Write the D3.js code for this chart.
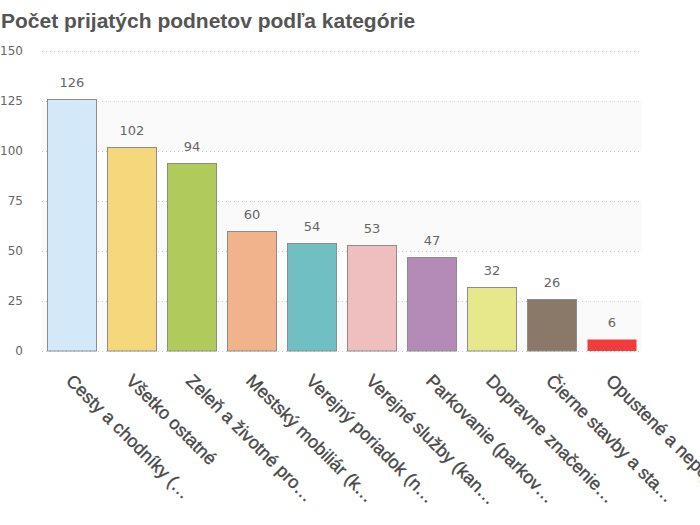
<!DOCTYPE html>
<html><head><meta charset="utf-8">
<script src="https://cdn.jsdelivr.net/npm/d3@7"></script>
<style>body{margin:0;background:#fff;overflow:hidden}svg{display:block}</style>
</head><body>
<script>
const categories = ["Cesty a chodníky (…","Všetko ostatné","Zeleň a životné pro…","Mestský mobiliár (k…","Verejný poriadok (n…","Verejné služby (kan…","Parkovanie (parkov…","Dopravne značenie…","Čierne stavby a sta…","Opustené a nepoja…"];
const values = [126,102,94,60,54,53,47,32,26,6];
const colors = ["#d3e8f8","#f6d87c","#b0cb5c","#f0b38b","#70bfc2","#efbebe","#b48bb6","#e7e78b","#8a7868","#f23b3b"];
const strokes = ["#8c8c8c","#8c8c8c","#8c8c8c","#8c8c8c","#8c8c8c","#8c8c8c","#8c8c8c","#8c8c8c","#8c8c8c","none"];
const yTicks = [0,25,50,75,100,125,150];
const title = "Počet prijatých podnetov podľa kategórie";

const W=700,H=525;
const svg=d3.select("body").append("svg").attr("width",W).attr("height",H);
const x=d3.scaleBand().domain(categories).range([42,642]).paddingInner(1/6).paddingOuter(1/12);
const y=d3.scaleLinear().domain([0,150]).range([351,51]);

// bands
for(let i=0;i<yTicks.length-1;i+=2){
  svg.append("rect").attr("x",42).attr("width",600)
    .attr("y",y(yTicks[i+1])).attr("height",y(yTicks[i])-y(yTicks[i+1])).attr("fill","#fafafa");
}
// grid
svg.append("g").selectAll("line").data(yTicks).join("line")
  .attr("x1",42).attr("x2",642).attr("y1",d=>y(d)+0.5).attr("y2",d=>y(d)+0.5)
  .attr("stroke","#c8c8c8").attr("stroke-dasharray","1,3");
// y axis labels
const yAxis=d3.axisLeft(y).tickValues(yTicks).tickSize(0).tickPadding(0);
const gy=svg.append("g").attr("transform","translate(23,0)").call(yAxis);
gy.select(".domain").remove();
gy.selectAll("text").attr("font-family","DejaVu Sans").attr("font-size",12).attr("fill","#666");

// bars
svg.append("g").selectAll("rect").data(values).join("rect")
  .attr("x",(d,i)=>x(categories[i])+0.5).attr("width",x.bandwidth()-1)
  .attr("y",d=>y(d)+0.5).attr("height",d=>y(0)-y(d)-0.5)
  .attr("fill",(d,i)=>colors[i]).attr("stroke",(d,i)=>strokes[i]).attr("stroke-width",1);
// value labels
svg.append("g").selectAll("text").data(values).join("text")
  .attr("x",(d,i)=>x(categories[i])+x.bandwidth()/2).attr("y",d=>y(d)-12)
  .attr("text-anchor","middle").attr("font-family","DejaVu Sans").attr("font-size",13).attr("fill","#666")
  .text(d=>d);
// category labels
svg.append("g").selectAll("text").data(categories).join("text")
  .attr("transform",d=>`translate(${x(d)+x.bandwidth()/2+2},${373}) rotate(45)`)
  .attr("dy","0.7em")
  .attr("font-family","Liberation Sans, Arial").attr("font-size",18).attr("fill","#484848")
  .attr("stroke","#484848").attr("stroke-width",0.35)
  .text(d=>d);
// title
svg.append("text").attr("x",1).attr("y",28).attr("font-family","Liberation Sans, Arial")
  .attr("font-size",21).attr("font-weight","bold").attr("fill","#555").text(title);
</script>
</body></html>
